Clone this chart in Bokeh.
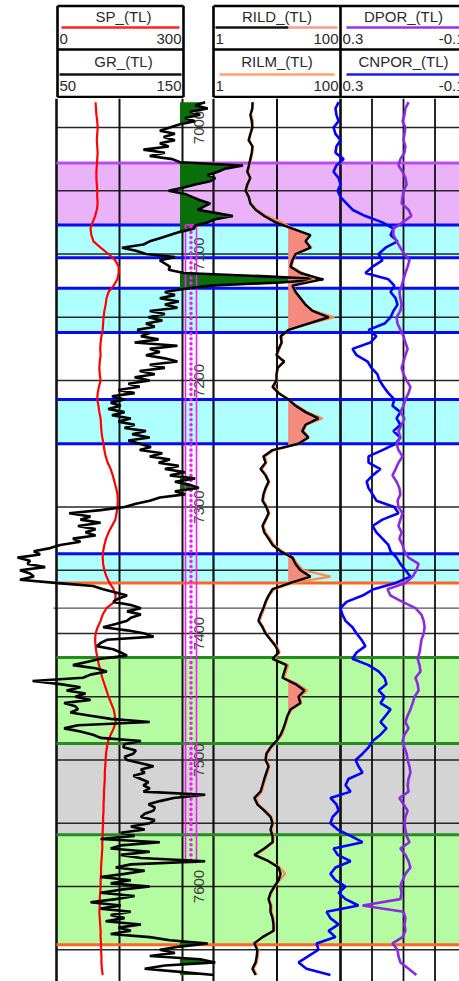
import numpy as np
from bokeh.plotting import figure
from bokeh.models import Range1d, LogScale
from bokeh.layouts import column
from bokeh.core.properties import value
from bokeh.embed import file_html
from bokeh.resources import INLINE

# ---------------- data ----------------
depth = list(range(6980, 7675, 5))               # 5 ft samples
gr_depth = [6980 + 2.5 * i for i in range(277)]  # 2.5 ft samples for GR

gr = [168, 160, 170, 156, 164, 152, 160, 148, 140, 132, 144, 135, 144, 132, 139, 119, 136, 124, 142, 148,
      198, 184, 178, 170, 176, 172, 160, 151, 139, 152, 158, 164, 172, 167, 162, 176, 190, 176, 170, 160,
      159, 148, 140, 132, 124, 119, 102, 113, 121, 144, 132, 136, 140, 139, 151, 212, 262, 228, 172, 152,
      136, 144, 132, 147, 136, 146, 124, 136, 123, 134, 121, 128, 114, 124, 117, 131, 112, 146, 124, 132,
      121, 136, 146, 124, 136, 116, 128, 112, 124, 107, 116, 99, 112, 94, 104, 93, 101, 91, 104, 94,
      109, 99, 112, 104, 121, 110, 124, 107, 116, 125, 116, 134, 124, 140, 131, 147, 136, 152, 140, 160,
      144, 156, 163, 144, 152, 132, 124, 113, 104, 85, 60, 77, 69, 85, 67, 81, 73, 81, 63, 69,
      53, 45, 32, 37, 19, 29, 27, 41, 21, 29, 32, 21, 49, 79, 87, 97, 106, 99, 95, 109,
      117, 106, 117, 109, 106, 97, 87, 106, 120, 127, 90, 85, 82, 95, 101, 106, 85, 74, 63, 81,
      90, 77, 71, 31, 53, 69, 58, 73, 65, 77, 56, 65, 67, 61, 77, 93, 124, 67, 56, 69,
      79, 85, 117, 104, 103, 113, 111, 104, 106, 117, 127, 117, 120, 111, 117, 123, 119, 124, 119, 168,
      143, 132, 123, 128, 127, 120, 117, 128, 124, 109, 120, 101, 112, 85, 132, 101, 93, 124, 101, 117,
      168, 109, 97, 120, 104, 85, 109, 93, 124, 101, 85, 112, 97, 77, 101, 85, 109, 93, 104, 89,
      117, 99, 109, 93, 124, 140, 170, 148, 132, 144, 124, 164, 176, 136, 120, 148, 175]

sp = [93, 94, 95, 97, 98, 97, 96, 97, 98, 97,
      96, 95, 95, 96, 97, 97, 98, 96, 92, 86,
      81, 83, 88, 105, 124, 140, 148, 148, 145, 136,
      124, 119, 117, 114, 112, 111, 110, 107, 105, 104,
      105, 103, 102, 103, 105, 101, 98, 97, 100, 102,
      105, 106, 107, 109, 112, 114, 117, 122, 129, 134,
      138, 142, 145, 146, 145, 143, 140, 132, 124, 118,
      114, 111, 110, 111, 114, 119, 126, 136, 141, 138,
      119, 110, 105, 98, 93, 92, 93, 95, 98, 101,
      105, 109, 114, 119, 124, 130, 136, 139, 141, 136,
      129, 123, 120, 118, 117, 116, 115, 115, 114, 113,
      113, 112, 112, 111, 111, 110, 110, 109, 109, 108,
      107, 106, 106, 105, 105, 104, 103, 103, 102, 103,
      104, 105, 105, 106, 106, 107, 107, 108, 110]

rild = [4.1, 4.1, 3.8, 4.0, 4.1, 3.8, 3.6, 4.1, 4.0, 3.8,
        3.6, 3.4, 3.8, 3.4, 3.2, 3.6, 3.8, 4.6, 6.3, 9.5,
        17.5, 33.7, 28.1, 33.7, 19.6, 17.5, 16.3, 23.4, 52, 17.5,
        19.6, 23.4, 28.1, 36.2, 65, 31, 15.2, 11.4, 11.8, 10.6,
        9.8, 13, 10.2, 9.8, 9.8, 8.5, 10.6, 15.2, 19.6, 28.1,
        45, 28.1, 25, 31, 21.8, 8.5, 6.1, 6.6, 5.5, 6.6,
        7.35, 6.6, 6.1, 5.9, 6.8, 7.35, 6.6, 5.9, 6.3, 7.35,
        8.5, 11.4, 17.5, 19.6, 23.4, 33.7, 16.3, 8.5, 7.35, 6.6,
        6.1, 5.5, 5.1, 5.9, 6.6, 7.9, 9.5, 10.6, 8.5, 14.1,
        13.1, 12.2, 19.6, 27, 21.8, 23.4, 16.3, 14.6, 13.6, 12.6,
        11.4, 9.8, 7.9, 6.8, 6.6, 7.35, 6.8, 6.3, 5.9, 5.5,
        4.4, 4.9, 6.3, 7.9, 8.5, 7.9, 8.5, 8.5, 6.3, 4.4,
        7.35, 10.6, 11.4, 10.6, 9.1, 7.9, 7.35, 7.9, 7.9, 8.5,
        8.8, 8.8, 5.9, 4.4, 4.9, 4.8, 4.6, 4.1, 4.6]

rilm = [4.3, 4.0, 3.9, 4.2, 4.0, 3.9, 3.5, 4.2, 4.1, 3.9,
        3.7, 3.5, 3.7, 3.5, 3.3, 3.5, 3.9, 4.8, 6.8, 12,
        18, 30, 29, 35, 20, 18, 17, 25, 40, 18,
        20, 24, 27, 38, 80, 33, 15, 12, 12, 11,
        10, 12.5, 10.5, 10, 10, 9, 11, 15, 21, 30,
        52, 29, 26, 32, 22, 9, 6.5, 6.8, 5.8, 6.8,
        7.6, 6.8, 6.3, 6.1, 7.0, 7.6, 6.8, 6.1, 6.6, 7.8,
        9, 12, 18, 21, 26, 70, 18, 9, 7.6, 6.8,
        6.3, 5.8, 5.3, 6.1, 6.8, 8.2, 10, 11, 9, 15,
        14, 13, 21, 30, 23, 24, 17, 15, 14, 13,
        12, 10, 8.2, 7.1, 6.8, 7.6, 7.1, 6.6, 6.1, 5.8,
        4.7, 5.1, 6.6, 8.2, 8.8, 8.2, 8.8, 8.8, 6.6, 4.7,
        7.6, 11, 13.5, 11, 9.4, 8.2, 7.6, 8.2, 8.2, 8.8,
        9.1, 9.1, 6.1, 4.2, 5.1, 5.0, 4.8, 4.3, 4.8]

cnpor = [0.306, 0.316, 0.313, 0.306, 0.322, 0.316, 0.300, 0.313, 0.316, 0.290,
         0.313, 0.322, 0.306, 0.300, 0.309, 0.300, 0.281, 0.262, 0.221, 0.167,
         0.132, 0.141, 0.119, 0.157, 0.179, 0.167, 0.198, 0.221, 0.148, 0.129,
         0.141, 0.125, 0.119, 0.132, 0.141, 0.160, 0.211, 0.186, 0.205, 0.262,
         0.249, 0.214, 0.202, 0.183, 0.176, 0.163, 0.148, 0.129, 0.135, 0.110,
         0.122, 0.110, 0.132, 0.110, 0.125, 0.167, 0.211, 0.211, 0.173, 0.198,
         0.217, 0.211, 0.198, 0.186, 0.129, 0.116, 0.167, 0.198, 0.186, 0.167,
         0.148, 0.141, 0.122, 0.110, 0.094, 0.078, 0.125, 0.195, 0.230, 0.281,
         0.300, 0.294, 0.284, 0.262, 0.249, 0.233, 0.221, 0.249, 0.262, 0.211,
         0.179, 0.160, 0.154, 0.179, 0.160, 0.173, 0.141, 0.157, 0.173, 0.154,
         0.173, 0.198, 0.211, 0.230, 0.252, 0.243, 0.230, 0.275, 0.284, 0.268,
         0.332, 0.313, 0.306, 0.325, 0.332, 0.309, 0.268, 0.230, 0.322, 0.309,
         0.268, 0.316, 0.332, 0.316, 0.284, 0.306, 0.284, 0.243, 0.344, 0.332,
         0.306, 0.338, 0.316, 0.376, 0.370, 0.402, 0.433, 0.408, 0.332]

dpor = [0.084, 0.094, 0.097, 0.103, 0.094, 0.097, 0.100, 0.094, 0.097, 0.110,
        0.116, 0.103, 0.094, 0.090, 0.100, 0.103, 0.106, 0.084, 0.075, 0.103,
        0.132, 0.132, 0.122, 0.110, 0.097, 0.081, 0.087, 0.094, 0.100, 0.106,
        0.113, 0.110, 0.106, 0.110, 0.122, 0.119, 0.110, 0.100, 0.094, 0.087,
        0.094, 0.100, 0.106, 0.100, 0.090, 0.078, 0.084, 0.094, 0.100, 0.110,
        0.097, 0.106, 0.116, 0.110, 0.122, 0.116, 0.103, 0.116, 0.125, 0.135,
        0.122, 0.113, 0.110, 0.119, 0.116, 0.103, 0.110, 0.116, 0.106, 0.113,
        0.103, 0.097, 0.084, 0.052, 0.059, 0.071, 0.094, 0.151, 0.141, 0.103,
        0.062, 0.043, 0.036, 0.033, 0.036, 0.043, 0.046, 0.049, 0.055, 0.049,
        0.046, 0.062, 0.055, 0.052, 0.065, 0.071, 0.078, 0.087, 0.094, 0.084,
        0.097, 0.103, 0.097, 0.090, 0.087, 0.081, 0.078, 0.084, 0.087, 0.084,
        0.113, 0.100, 0.087, 0.094, 0.097, 0.094, 0.090, 0.081, 0.110, 0.094,
        0.084, 0.078, 0.094, 0.103, 0.110, 0.106, 0.110, 0.230, 0.100, 0.094,
        0.097, 0.094, 0.103, 0.135, 0.119, 0.116, 0.110, 0.084, 0.059]

# zones (depth tops / bottoms) and kinds
zone_top = [7028, 7077, 7127, 7215, 7337, 7419, 7487, 7559]
zone_bottom = [7077, 7103, 7162, 7250, 7360, 7487, 7559, 7646]
zone_kind = ["purple", "cyan", "cyan", "cyan", "cyan", "green", "grey", "green"]
marker_depth = [7028, 7077, 7103, 7127, 7162, 7215, 7250, 7337, 7360, 7419, 7487, 7559, 7646]
marker_kind = ["violet", "blue", "blue", "blue", "blue", "blue", "blue", "blue",
               "orange", "green", "green", "green", "orange"]
core_top, core_bottom = 7077, 7581

depth_labels = [7000, 7100, 7200, 7300, 7400, 7500, 7600]
grid_depths = list(range(7000, 7700, 50))
extra_grid = [7380]

gr_cut = 148
res_cut = 15

hdr_top_names = ["SP_(TL)", "RILD_(TL)", "DPOR_(TL)"]
hdr_bot_names = ["GR_(TL)", "RILM_(TL)", "CNPOR_(TL)"]
hdr_top_lo = ["0", "1", "0.3"]
hdr_top_hi = ["300", "100", "-0.1"]
hdr_bot_lo = ["50", "1", "0.3"]
hdr_bot_hi = ["150", "100", "-0.1"]

# ---------------- layout / style (page pixels) ----------------
X0, X1 = 0, 459
W = X1 - X0
HDR_TOP, HDR_BOT, PLOT_BOT = 0, 98, 981
T1 = (56, 182)
TD = (182, 213)
T2 = (213, 340)
T3 = (340, 466)
RIGHT = 462
PX_PER_FT = 1.265
Y7200 = 380.0
FONT = value("Liberation Sans")

ZONE_FILL = {"purple": "#EAB2F8", "cyan": "#AEFFFF", "green": "#B4FBA2", "grey": "#D4D4D4"}
MARK_COL = {"violet": "#B84CF2", "blue": "#0A0AF0", "orange": "#FF6622", "green": "#2A8A22"}


def depth_at(y):
    return 7200 + (y - Y7200) / PX_PER_FT


def lin_range(v0, v1, a, b):
    s = (v1 - v0) / (b - a)
    return Range1d(start=v0 + (X0 - a) * s, end=v0 + (X1 - a) * s)


def log_range(v0, v1, a, b):
    l0, l1 = np.log10(v0), np.log10(v1)
    s = (l1 - l0) / (b - a)
    return Range1d(start=10 ** (l0 + (X0 - a) * s), end=10 ** (l0 + (X1 - a) * s))


d_top, d_bot = depth_at(HDR_BOT), depth_at(PLOT_BOT)

p = figure(width=W, height=PLOT_BOT - HDR_BOT,
           x_range=Range1d(X0, X1), y_range=Range1d(d_bot, d_top),
           output_backend="svg", toolbar_location=None, min_border=0,
           x_axis_location=None, y_axis_location=None,
           outline_line_color=None, background_fill_color="white",
           border_fill_color="white")
p.grid.visible = False
p.extra_x_ranges = {"sp": lin_range(0, 300, *T1), "gr": lin_range(50, 150, *T1),
                    "res": log_range(1, 100, *T2), "por": lin_range(0.3, -0.1, *T3)}
p.extra_x_scales = {"res": LogScale()}

# zones
p.quad(left=T1[0], right=RIGHT, top=zone_top, bottom=zone_bottom,
       fill_color=[ZONE_FILL[k] for k in zone_kind], line_color=None)

# grid
n_g = len(grid_depths)
p.segment(x0=[T1[0]] * n_g, x1=[RIGHT] * n_g, y0=grid_depths, y1=grid_depths,
          line_color="#262626", line_width=1.6)
p.segment(x0=[T1[0] - 3], x1=[RIGHT], y0=extra_grid, y1=extra_grid,
          line_color="#555555", line_width=1.2)
for vals, rn, lw in [([50, 100, 150], "gr", [2.6, 2, 2]),
                     ([1, 10, 100], "res", [2.2, 2, 2.2]),
                     ([0.3, 0.2, 0.1, 0.0, -0.1], "por", [2.2, 1.8, 1.8, 1.8, 1.8])]:
    p.segment(x0=vals, x1=vals, y0=[d_top] * len(vals), y1=[d_bot] * len(vals),
              x_range_name=rn, line_color="#111111", line_width=lw)

# zone boundary lines
p.segment(x0=[T1[0]] * len(marker_depth), x1=[RIGHT] * len(marker_depth),
          y0=marker_depth, y1=marker_depth,
          line_color=[MARK_COL[k] for k in marker_kind], line_width=3)

# depth labels
p.text(x=[(TD[0] + TD[1]) / 2 + 1] * len(depth_labels), y=depth_labels,
       text=[str(d) for d in depth_labels], angle=np.pi / 2,
       text_align="center", text_baseline="middle",
       text_font=FONT, text_font_size="15px", text_color="#3c3c3c")

# fills (derived from the curve data, densified for clean crossings)
fine = np.linspace(gr_depth[0], gr_depth[-1], 3000)
gr_f = np.interp(fine, gr_depth, gr)
p.harea(x1=np.full_like(fine, gr_cut), x2=np.maximum(gr_f, gr_cut), y=fine,
        x_range_name="gr", fill_color="#0A6E0A")
fine2 = np.linspace(depth[0], depth[-1], 2000)
rild_f = 10 ** np.interp(fine2, depth, np.log10(rild))
p.harea(x1=np.full_like(fine2, res_cut), x2=np.maximum(rild_f, res_cut), y=fine2,
        x_range_name="res", fill_color="#F58A7E")

# core / perforation interval marker
p.quad(left=[185], right=[196], top=[core_top], bottom=[core_bottom],
       fill_color=None, line_color="#F020F0", line_width=1.6)
p.scatter(x=190.5, y=np.arange(core_top + 2, core_bottom, 4), size=3.6,
          color="#F020F0", line_color=None)

# curves
p.line(sp, depth, x_range_name="sp", line_color="#FF0000", line_width=2.2)
p.line(gr, gr_depth, x_range_name="gr", line_color="#000000", line_width=2.6)
p.line(rilm, depth, x_range_name="res", line_color="#FF8A4C", line_width=2.2)
p.line(rild, depth, x_range_name="res", line_color="#000000", line_width=2.4)
p.line(cnpor, depth, x_range_name="por", line_color="#0000FF", line_width=2.6)
p.line(dpor, depth, x_range_name="por", line_color="#8A2BE2", line_width=2.6)

# ---------------- header ----------------
h = figure(width=W, height=HDR_BOT - HDR_TOP,
           x_range=Range1d(X0, X1), y_range=Range1d(HDR_BOT, HDR_TOP),
           output_backend="svg", toolbar_location=None, min_border=0,
           x_axis_location=None, y_axis_location=None,
           outline_line_color=None, background_fill_color="white",
           border_fill_color="white")
h.grid.visible = False

boxes = [(T1[0] + 1, T1[1] + 1), T2, T3]
ROW_Y = [5.5, 49, 96.5]
for (a, b) in [boxes[0], (T2[0], RIGHT)]:
    h.segment(x0=[a] * 3, x1=[b] * 3, y0=ROW_Y, y1=ROW_Y, line_color="black", line_width=2.6)
vx = [boxes[0][0], boxes[0][1], T2[0], T2[1], T3[1]]
h.segment(x0=vx, x1=vx, y0=[ROW_Y[0]] * len(vx), y1=[ROW_Y[2]] * len(vx),
          line_color="black", line_width=2.6)

centers = [(a + b) / 2 for a, b in boxes]
centers[0] += 3
h.text(x=centers, y=[16] * 3, text=hdr_top_names, text_align="center", text_baseline="middle",
       text_font=FONT, text_font_size="15px", text_color="#2a2a2a")
h.text(x=centers, y=[61] * 3, text=hdr_bot_names, text_align="center", text_baseline="middle",
       text_font=FONT, text_font_size="15px", text_color="#2a2a2a")
lefts = [a + 2 for a, b in boxes]
rights = [b - 2 for a, b in boxes]
for yy, lo, hi in [(38.5, hdr_top_lo, hdr_top_hi), (85.5, hdr_bot_lo, hdr_bot_hi)]:
    h.text(x=lefts, y=[yy] * 3, text=lo, text_align="left", text_baseline="middle",
           text_font=FONT, text_font_size="15px", text_color="#2a2a2a")
    h.text(x=rights, y=[yy] * 3, text=hi, text_align="right", text_baseline="middle",
           text_font=FONT, text_font_size="15px", text_color="#2a2a2a")

# legend lines under curve names
leg_x0 = [boxes[0][0] + 4, T2[0] + 2, T2[0] + 75, T3[0] + 6,
          boxes[0][0] + 2, T2[0] + 6, T3[0] + 6]
leg_x1 = [boxes[0][1] - 4, T2[0] + 75, T2[1] - 3, RIGHT,
          boxes[0][1] - 2, T2[1] - 6, RIGHT]
leg_y = [27, 27, 27, 27, 74, 74, 74]
leg_c = ["#FF2020", "#111111", "#F79A90", "#9A30F0", "#111111", "#FFA070", "#1A1AF0"]
h.segment(x0=leg_x0, x1=leg_x1, y0=leg_y, y1=leg_y, line_color=leg_c, line_width=2.6)

layout = column(h, p, spacing=0)
open("out.html", "w").write(file_html(layout, INLINE))
